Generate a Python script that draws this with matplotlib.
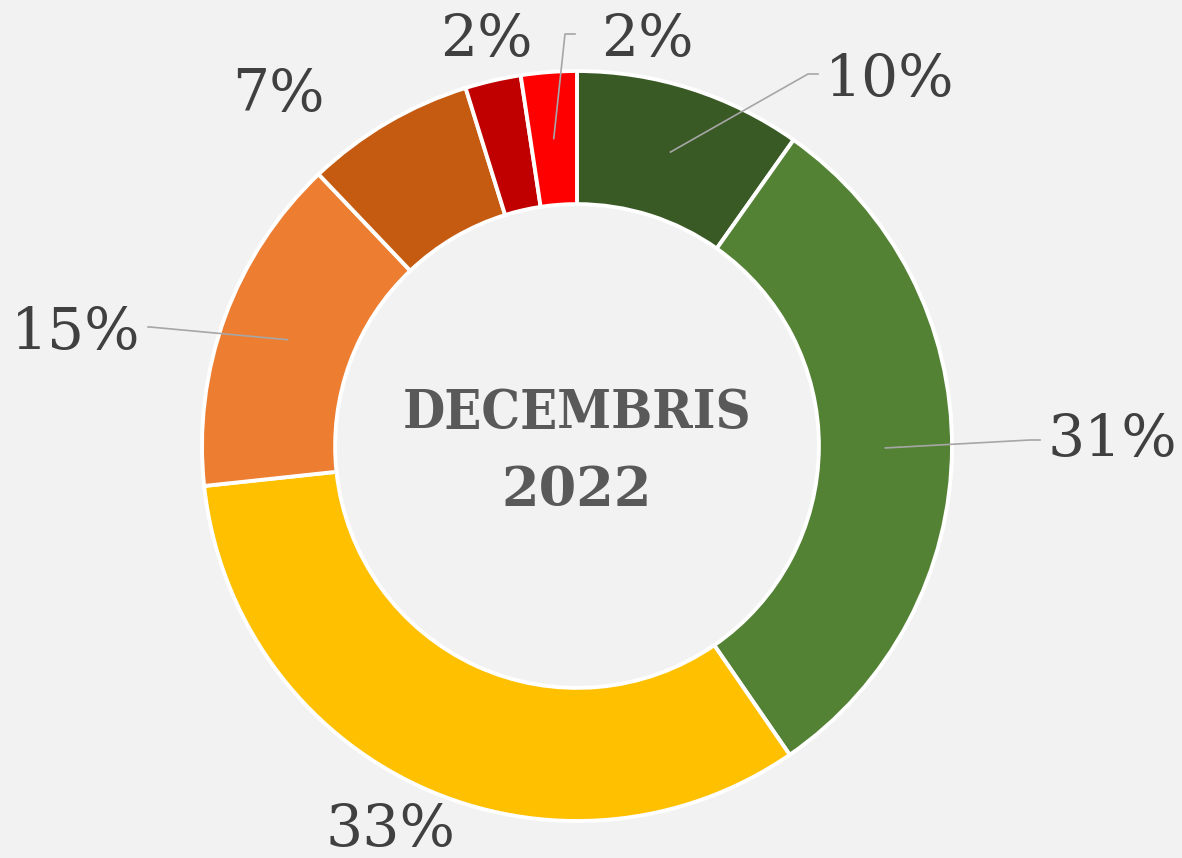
import numpy as np
import matplotlib.pyplot as plt

# share of each category, clockwise from the top
values = [9.8, 30.6, 32.9, 14.6, 7.3, 2.4, 2.4]
colors = ['#3A5A25', '#548235', '#FFC000', '#ED7D31', '#C55A11', '#C00000', '#FF0000']
title_lines = ['DECEMBRIS', '2022']

# label text positions (pixels, y from top) and whether a leader line is drawn
label_pos = [(890, 80), (1112, 440), (390, 830), (76, 333), (278, 95), (486, 40), (647, 40)]
leader = [True, True, False, True, False, False, True]

W, H = 1182, 858
cx, cy, R = 577, H - 446, 375
ring = 0.355

fig = plt.figure(figsize=(W / 100, H / 100), dpi=100)
fig.patch.set_facecolor('#F2F2F2')
ax = fig.add_axes([0, 0, 1, 1])
ax.axis('off')

wedges, _ = ax.pie(values, colors=colors, startangle=90, counterclock=False,
                   center=(cx, cy), radius=R,
                   wedgeprops=dict(width=R * ring, edgecolor='white', linewidth=2.8))
ax.set_xlim(0, W)
ax.set_ylim(0, H)
ax.set_aspect('equal')

for w, v, (lx, ly), has_line in zip(wedges, values, label_pos, leader):
    ly = H - ly
    if has_line:
        mid = np.deg2rad((w.theta1 + w.theta2) / 2)
        r_mid = R * (1 - ring / 2)
        ax_ = cx + r_mid * np.cos(mid)
        ay_ = cy + r_mid * np.sin(mid)
        if lx > cx:
            ex = lx - 72
        else:
            ex = lx + 72
        ey = ly + 6 if abs(ly - cy) > 100 else ly
        if lx > cx:
            pts_x = [ax_, ex - 10, ex]
        else:
            pts_x = [ax_, ex + 2, ex]
        pts_y = [ay_, ey, ey]
        ax.plot(pts_x, pts_y, color='#A6A6A6', lw=1.2, zorder=3)
    ax.text(lx, ly, '{:.0f}%'.format(v), ha='center', va='center',
            fontsize=42, family='DejaVu Serif', color='#404040')

ax.text(cx, cy + 32, title_lines[0], ha='center', va='center', fontsize=39,
        family='DejaVu Serif', fontweight='bold', color='#595959', fontstretch='condensed')
ax.text(cx, cy - 45, title_lines[1], ha='center', va='center', fontsize=39,
        family='DejaVu Serif', fontweight='bold', color='#595959')

plt.savefig('out.png', facecolor=fig.get_facecolor())
